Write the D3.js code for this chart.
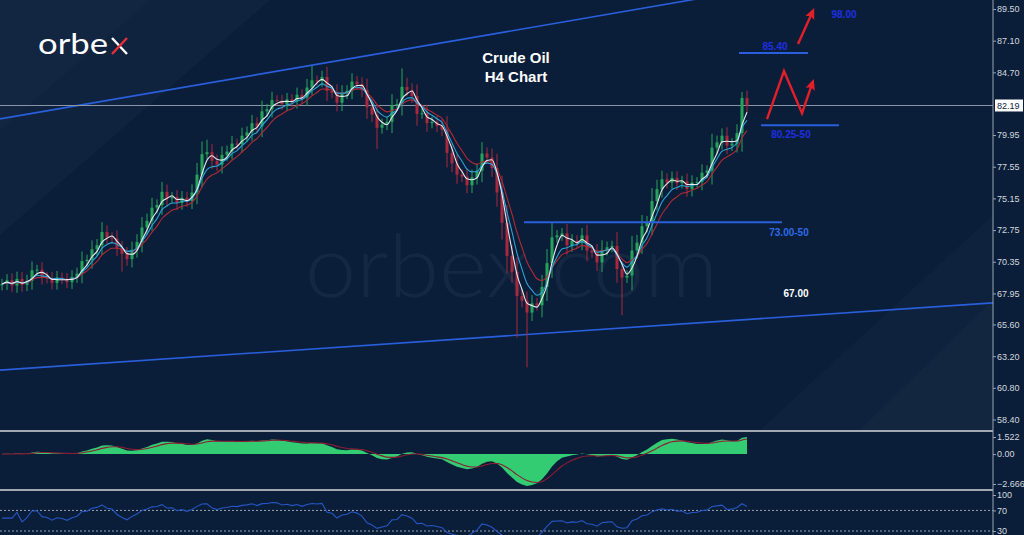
<!DOCTYPE html>
<html><head><meta charset="utf-8">
<script src="https://cdn.jsdelivr.net/npm/d3@7/dist/d3.min.js"></script>
<style>html,body{margin:0;padding:0;background:#0a1e3a;overflow:hidden}</style>
</head><body>
<svg id="c" width="1024" height="535"></svg>
<script>
// ---- DATA ----
const closes = [
68.67,68.95,68.55,69.05,68.60,68.90,69.70,69.75,69.20,69.10,
68.75,69.15,69.05,68.80,69.20,69.45,70.40,70.50,71.30,71.60,
72.60,72.20,72.10,71.40,70.95,70.55,71.25,71.85,72.95,73.45,
74.45,74.65,75.65,75.15,75.25,74.80,75.20,74.95,75.60,76.95,
78.50,78.65,78.00,77.70,78.45,78.70,79.30,79.25,79.90,80.15,
80.85,80.60,81.75,81.90,82.60,82.55,82.30,82.65,82.50,83.00,
82.80,83.55,84.10,84.05,84.35,83.30,83.15,82.40,83.10,83.30,
84.00,83.80,83.35,82.05,81.50,80.50,80.75,80.95,82.20,82.30,
83.60,83.35,82.90,81.55,81.60,80.85,80.95,80.65,80.35,78.60,
77.80,76.95,76.80,76.15,76.75,77.25,78.55,78.25,77.45,75.60,
73.30,70.80,69.60,67.75,67.40,66.50,67.20,67.05,68.45,70.25,
72.20,72.35,72.50,71.60,71.95,71.80,72.35,71.20,71.05,70.30,
71.25,71.45,71.55,69.80,69.15,69.30,71.20,71.80,73.05,73.35,
74.95,75.85,76.60,76.35,76.70,76.30,76.45,75.85,76.35,76.40,
77.10,77.25,79.00,79.40,79.90,79.15,79.30,80.10,82.75,82.19];
// notable wick extremes [candle index, price]
const lowSpikes = [[103,64.6],[105,62.35],[124,66.3],[75,78.9],[89,77.5],[24,69.6]];
const highSpikes = [[62,85.2],[80,85.0],[41,79.6],[148,83.2],[81,84.3]];
const priceTicks = [89.50,87.10,84.70,79.95,77.55,75.15,72.75,70.35,67.95,65.60,63.20,60.80,58.40];
const lastPrice = 82.19;
const macdTicks = [1.522,0.00,-2.666];
const rsiTicks = [100,70,30];
const title = ["Crude Oil","H4 Chart"];
// trendlines: [candle index, price]
const upperTrend = [[0,81.2],[140,90.33]];
const lowerTrend = [[0,62.15],[198,67.23]];
// horizontal levels
const levels = [
  {p:86.16, i0:147.4, i1:161.2, label:"85.40", li:154.6, lp:86.7, col:"#1f2fe0"},
  {p:80.70, i0:151.8, i1:167.4, label:"80.25-50", li:157.8, lp:80.05, col:"#1f2fe0"},
  {p:73.34, i0:104.4, i1:156, label:"73.00-50", li:157.4, lp:72.6, col:"#2f6ae6"}
];
const freeLabels = [
  {label:"98.00", li:168.4, lp:89.12, col:"#1f2fe0"},
  {label:"67.00", li:158.8, lp:67.95, col:"#ffffff"}
];
// projected paths [index, price]
const zigzag = [[153,81.15],[156.4,84.8],[160,81.61],[162,83.81]];
const upArrow = [[159.2,86.84],[162,89.2]];

// ---- DRAW ----
const svg = d3.select("#c");
const W=1024, H=535, AX=993;
const x = d3.scaleLinear().domain([0, closes.length-1]).range([2, 747]);
const y = d3.scaleLinear().domain([58.40, 89.50]).range([419.5, 9]);
const myAxis = d3.scaleLinear().domain([-2.666, 1.522]).range([484, 437]);
const ry = d3.scaleLinear().domain([30, 100]).range([531, 495]);

const defs = svg.append("defs");
defs.append("clipPath").attr("id","cp").append("rect").attr("x",0).attr("y",0).attr("width",AX).attr("height",429);
defs.append("clipPath").attr("id","cm").append("rect").attr("x",0).attr("y",433).attr("width",AX).attr("height",55);
defs.append("clipPath").attr("id","cr").append("rect").attr("x",0).attr("y",492).attr("width",AX).attr("height",43);
const ah = defs.append("marker").attr("id","ah").attr("viewBox","0 0 10 10").attr("refX",5).attr("refY",5)
  .attr("markerWidth",4.5).attr("markerHeight",4.5).attr("orient","auto");
ah.append("path").attr("d","M0,0.5 L10,5 L0,9.5 L2,5 Z").attr("fill","#e3202a");

svg.append("rect").attr("width",W).attr("height",H).attr("fill","#0a1e3a");
// faint background shapes
const bg = svg.append("g").attr("fill","#ffffff");
bg.append("path").attr("d","M0,0 L270,0 L0,235 Z").attr("opacity",0.025);
bg.append("path").attr("d","M0,0 L150,0 L0,130 Z").attr("opacity",0.015);
bg.append("path").attr("d","M760,430 L993,215 L993,430 Z").attr("opacity",0.02);
bg.append("path").attr("d","M860,430 L993,300 L993,430 Z").attr("opacity",0.02);
// watermark
svg.append("text").attr("x",305).attr("y",297).attr("textLength",413).attr("lengthAdjust","spacingAndGlyphs")
  .attr("font-family","Lato").attr("font-weight",300).attr("font-size",86)
  .attr("fill","#ffffff").attr("opacity",0.045).text("orbex.com");

// logo
const logo = svg.append("g");
logo.append("text").attr("x",38).attr("y",54).attr("font-family","Lato").attr("font-size",29)
  .attr("textLength",70).attr("lengthAdjust","spacingAndGlyphs")
  .attr("fill","#ffffff").text("orbe");
logo.append("line").attr("x1",112).attr("y1",38).attr("x2",127).attr("y2",54).attr("stroke","#ffffff").attr("stroke-width",2.4);
logo.append("line").attr("x1",127).attr("y1",38).attr("x2",112).attr("y2",54).attr("stroke","#e8303a").attr("stroke-width",2.4);

// price panel
const pp = svg.append("g").attr("clip-path","url(#cp)");
const lineP = d3.line().x(d=>x(d[0])).y(d=>y(d[1]));
function extend(tr){
  const [a,b]=tr; const s=(b[1]-a[1])/(b[0]-a[0]);
  const i0=x.invert(0), i1=x.invert(AX);
  return [[i0,a[1]+s*(i0-a[0])],[i1,a[1]+s*(i1-a[0])]];
}
pp.append("path").attr("d",lineP(extend(upperTrend))).attr("stroke","#2a5fdc").attr("stroke-width",1.6).attr("fill","none");
pp.append("path").attr("d",lineP(extend(lowerTrend))).attr("stroke","#2a5fdc").attr("stroke-width",1.6).attr("fill","none");
pp.append("line").attr("x1",0).attr("x2",AX).attr("y1",y(lastPrice)).attr("y2",y(lastPrice))
  .attr("stroke","#8c96a6").attr("stroke-width",1);

// candles
const candles = closes.map((c,i)=>{
  const o = i===0 ? c-0.1 : closes[i-1];
  const w = Math.abs(c-o)*0.4+0.35;
  let hi = Math.max(o,c)+w, lo = Math.min(o,c)-w;
  lowSpikes.forEach(s=>{ if(s[0]===i) lo=s[1]; });
  highSpikes.forEach(s=>{ if(s[0]===i) hi=s[1]; });
  return {i,o,c,hi,lo};
});
const up="#26a35a", dn="#a8283d";
const cg = pp.append("g");
cg.selectAll("line.w").data(candles).join("line").attr("class","w")
  .attr("x1",d=>x(d.i)).attr("x2",d=>x(d.i)).attr("y1",d=>y(d.hi)).attr("y2",d=>y(d.lo))
  .attr("stroke",d=>d.c>=d.o?up:dn).attr("stroke-width",1);
cg.selectAll("rect").data(candles).join("rect")
  .attr("x",d=>x(d.i)-1.5).attr("width",3)
  .attr("y",d=>y(Math.max(d.o,d.c))).attr("height",d=>Math.max(1,Math.abs(y(d.o)-y(d.c))))
  .attr("fill",d=>d.c>=d.o?up:dn);

function ema(arr,n){const k=2/(n+1);const out=[];arr.forEach((v,i)=>{out.push(i===0?v:v*k+out[i-1]*(1-k));});return out;}
function sma(arr,n){return arr.map((v,i)=>{const s=arr.slice(Math.max(0,i-n+1),i+1);return d3.mean(s);});}
const maSlow = ema(closes,8), maMid = ema(closes,5), maFast = sma(closes,3);
const lineMA = d3.line().x((d,i)=>x(i)).y(d=>y(d)).curve(d3.curveMonotoneX);
pp.append("path").attr("d",lineMA(maSlow)).attr("stroke","#b02a36").attr("stroke-width",1.1).attr("fill","none");
pp.append("path").attr("d",lineMA(maMid)).attr("stroke","#2aa6d8").attr("stroke-width",1.1).attr("fill","none");
pp.append("path").attr("d",lineMA(maFast)).attr("stroke","#e6e9ee").attr("stroke-width",1.1).attr("fill","none");

// levels
const ann = svg.append("g");
levels.forEach(l=>{
  ann.append("line").attr("x1",x(l.i0)).attr("x2",x(l.i1)).attr("y1",y(l.p)).attr("y2",y(l.p))
    .attr("stroke","#2a5fdc").attr("stroke-width",2);
  ann.append("text").attr("x",x(l.li)).attr("y",y(l.lp)+4).attr("text-anchor","middle")
    .attr("font-family","Liberation Sans, Arial").attr("font-weight","bold").attr("font-size",10)
    .attr("fill",l.col).text(l.label);
});
freeLabels.forEach(l=>{
  ann.append("text").attr("x",x(l.li)).attr("y",y(l.lp)+4).attr("text-anchor","middle")
    .attr("font-family","Liberation Sans, Arial").attr("font-weight","bold").attr("font-size",10)
    .attr("fill",l.col).text(l.label);
});
ann.append("path").attr("d",lineP(zigzag)).attr("stroke","#e3202a").attr("stroke-width",2.4)
  .attr("fill","none").attr("stroke-linejoin","miter").attr("marker-end","url(#ah)");
ann.append("path").attr("d",lineP(upArrow)).attr("stroke","#e3202a").attr("stroke-width",2.4)
  .attr("fill","none").attr("marker-end","url(#ah)");

// title
title.forEach((t,i)=>{
  svg.append("text").attr("x",516).attr("y",63+i*19).attr("text-anchor","middle")
    .attr("font-family","Liberation Sans, Arial").attr("font-weight","bold").attr("font-size",15)
    .attr("fill","#ffffff").text(t);
});

// MACD panel (scaled so the indicator's own extremes fill the panel like the reference)
const e1=ema(closes,6), e2=ema(closes,15);
const macd = e1.map((v,i)=>v-e2[i]);
const sig = ema(macd,5);
const mMin = d3.min(macd.concat(sig)), mMax = d3.max(macd.concat(sig));
const my = d3.scaleLinear().domain([mMin, 0, mMax]).range([486, myAxis(0), 437]);
const mp = svg.append("g").attr("clip-path","url(#cm)");
mp.append("path").datum(macd).attr("d",d3.area().x((d,i)=>x(i)).y0(my(0)).y1(d=>my(d)))
  .attr("fill","#33cc72");
mp.append("path").datum(sig).attr("d",d3.line().x((d,i)=>x(i)).y(d=>my(d)).curve(d3.curveMonotoneX))
  .attr("fill","none").attr("stroke","#8e1c32").attr("stroke-width",1.1);

// RSI panel
function rsi(arr,n){
  const out=[];let ag=0,al=0;
  for(let i=0;i<arr.length;i++){
    if(i===0){out.push(55);continue;}
    const ch=arr[i]-arr[i-1];const g=Math.max(ch,0),l=Math.max(-ch,0);
    if(i<=n){ag+=g/n;al+=l/n;}else{ag=(ag*(n-1)+g)/n;al=(al*(n-1)+l)/n;}
    out.push((al===0||i<3)?55:100-100/(1+ag/al));}
  return out;
}
const rsiV = rsi(closes,11);
[70,30].forEach(v=>{
  svg.append("line").attr("x1",0).attr("x2",AX).attr("y1",ry(v)).attr("y2",ry(v))
   .attr("stroke","#9aa3b0").attr("stroke-width",1).attr("stroke-dasharray","2,2");
});
const rp = svg.append("g").attr("clip-path","url(#cr)");
rp.append("path").datum(rsiV).attr("d",d3.line().x((d,i)=>x(i)).y(d=>ry(d)))
  .attr("fill","none").attr("stroke","#2656c4").attr("stroke-width",1.1);

// separators
[431,490].forEach(v=>{
  svg.append("line").attr("x1",0).attr("x2",AX).attr("y1",v).attr("y2",v).attr("stroke","#a3a9b3").attr("stroke-width",2);
});

// right axis
const axG = svg.append("g").attr("transform",`translate(${AX},0)`);
axG.append("line").attr("x1",0).attr("x2",0).attr("y1",0).attr("y2",H).attr("stroke","#9aa3b0").attr("stroke-width",1);
function axisLabels(scale,ticks,fmt){
  const g = axG.append("g").call(d3.axisRight(scale).tickValues(ticks).tickSize(3).tickFormat(fmt));
  g.select(".domain").remove();
  g.selectAll("line").attr("stroke","#9aa3b0");
  g.selectAll("text").attr("fill","#d4d8de").attr("font-family","Liberation Sans, Arial").attr("font-size",9).attr("x",4);
}
axisLabels(y,priceTicks,d3.format(".2f"));
axisLabels(myAxis,macdTicks,d=>d===0?"0.00":d3.format(".3f")(d));
axisLabels(ry,rsiTicks,d3.format("d"));
axG.append("rect").attr("x",2).attr("y",y(lastPrice)-6).attr("width",28).attr("height",12).attr("fill","#ffffff");
axG.append("text").attr("x",4).attr("y",y(lastPrice)+3.5).attr("font-family","Liberation Sans, Arial").attr("font-size",9)
  .attr("fill","#0a1e3a").text(d3.format(".2f")(lastPrice));
</script>
</body></html>
